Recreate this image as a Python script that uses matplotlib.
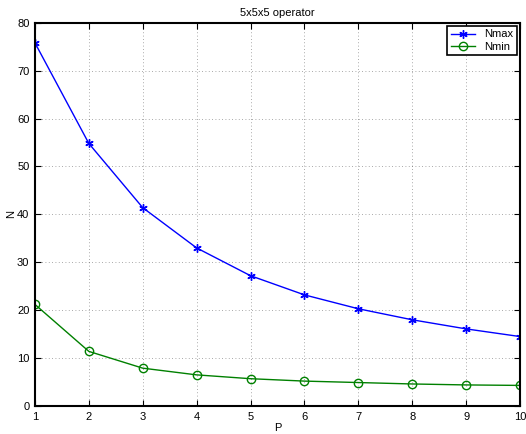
import numpy as np
import matplotlib
matplotlib.use("Agg")
import matplotlib.pyplot as plt

# 数据：从图上读出来的估计值
P = [1, 2, 3, 4, 5, 6, 7, 8, 9, 10]
n_max = [75.8, 54.8, 41.4, 33.0, 27.2, 23.2, 20.3, 18.0, 16.1, 14.5]
n_min = [21.2, 11.4, 7.9, 6.5, 5.7, 5.2, 4.9, 4.6, 4.4, 4.3]

plt.rcParams["font.family"] = ["Liberation Sans", "DejaVu Sans"]

fig = plt.figure(figsize=(5.26, 4.34), dpi=100)
ax = fig.add_axes([0.0665, 0.0645, 0.922, 0.883])

# MATLAB 风格的星号标记 (6 臂) 和空心圆
ax.plot(P, n_max, "-", color="blue", marker=(6, 2, 0), linewidth=1,
        markersize=6, markeredgewidth=1, label="Nmax")
ax.plot(P, n_min, "-o", color="#008000", linewidth=1, markersize=6,
        markerfacecolor="none", markeredgewidth=1, label="Nmin")

ax.set_xlim(1, 10)
ax.set_ylim(0, 80)
ax.set_xticks(P)
ax.set_yticks(range(0, 81, 10))
ax.tick_params(direction="in", top=True, right=True, labelsize=8, length=4, pad=4)
ax.grid(True, linestyle=(0, (1, 3)), color="black", linewidth=0.6, alpha=0.45)
for s in ax.spines.values():
    s.set_linewidth(1.5)

ax.set_xlabel("P", fontsize=8, labelpad=1)
ax.set_ylabel("N", fontsize=8, labelpad=1)
ax.set_title("5x5x5 operator", fontsize=8, pad=5)

leg = ax.legend(loc="upper right", fontsize=8, fancybox=False, framealpha=1,
                edgecolor="black", borderaxespad=0.3, handlelength=2.2,
                borderpad=0.3, labelspacing=0.2)
leg.get_frame().set_linewidth(1.2)

fig.savefig("out.png", dpi=100)
